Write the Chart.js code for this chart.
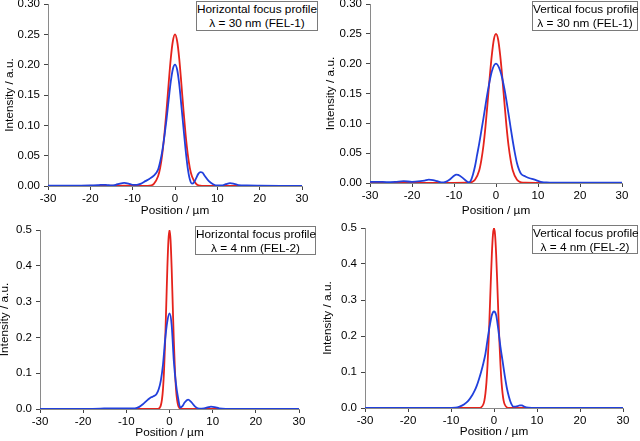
<!DOCTYPE html>
<html>
<head>
<meta charset="utf-8">
<script src="https://cdn.jsdelivr.net/npm/chart.js@4.4.0/dist/chart.umd.min.js"></script>
<style>
  body { margin: 0; background: #fff; width: 640px; height: 441px; position: relative; overflow: hidden; }
  canvas { position: absolute; }
  .tag {
    position: absolute; box-sizing: border-box; border: 1px solid #7a7a7a; background: #fff;
    font: 11.8px "Liberation Sans", Arial, sans-serif; color: #000; text-align: center;
    line-height: 14px; display: flex; flex-direction: column; justify-content: center; white-space: nowrap;
  }
</style>
</head>
<body>
<canvas id="c1" width="320" height="220" style="left:0;top:0"></canvas>
<canvas id="c2" width="320" height="220" style="left:320px;top:0"></canvas>
<canvas id="c3" width="320" height="221" style="left:0;top:220px"></canvas>
<canvas id="c4" width="320" height="221" style="left:320px;top:220px"></canvas>

<div class="tag" style="left:196px;top:1px;width:122px;height:30px"><div>Horizontal focus profile</div><div>λ = 30 nm (FEL-1)</div></div>
<div class="tag" style="left:532px;top:1px;width:106px;height:30px"><div>Vertical focus profile</div><div>λ = 30 nm (FEL-1)</div></div>
<div class="tag" style="left:195px;top:226px;width:121px;height:29px"><div>Horizontal focus profile</div><div>λ = 4 nm (FEL-2)</div></div>
<div class="tag" style="left:532px;top:225px;width:106px;height:29px"><div>Vertical focus profile</div><div>λ = 4 nm (FEL-2)</div></div>

<script>
// x ticks shared by all panels (µm)
const xTicks = [-30, -20, -10, 0, 10, 20, 30];

// --- FEL-1, horizontal ---
const h30RedX = [-30, -10, -7, -6, -5, -4, -3.5, -3, -2.5, -2, -1.5, -1, -0.5, 0, 0.5, 1, 1.5, 2, 2.5, 3, 3.5, 4, 5, 6, 7, 10, 30];
const h30RedY = [0, 0.0005, 0.0002, 0.0006, 0.0035, 0.016, 0.03, 0.053, 0.085, 0.125, 0.169, 0.21, 0.239, 0.25, 0.239, 0.21, 0.169, 0.125, 0.085, 0.053, 0.03, 0.016, 0.0035, 0.0006, 0.0002, 0, 0];
const h30BlueX = [-30, -25, -20, -18, -17, -16, -15, -14, -13, -12, -11, -10, -9, -8, -7, -6, -5, -4, -3.5, -3, -2.5, -2, -1.5, -1, -0.5, 0, 0.5, 1, 1.5, 2, 2.5, 3, 3.5, 4, 4.5, 5, 5.5, 6, 6.5, 7, 8, 9, 10, 11, 12, 13, 14, 15, 17, 20, 25, 30];
const h30BlueY = [0.0005, 0.0005, 0.0008, 0.0015, 0.002, 0.0015, 0.001, 0.002, 0.004, 0.005, 0.004, 0.002, 0.002, 0.004, 0.008, 0.012, 0.017, 0.027, 0.04, 0.058, 0.082, 0.11, 0.142, 0.172, 0.193, 0.2, 0.192, 0.168, 0.133, 0.096, 0.06, 0.03, 0.011, 0.004, 0.006, 0.013, 0.02, 0.023, 0.022, 0.017, 0.008, 0.003, 0.0008, 0.0008, 0.003, 0.0048, 0.0035, 0.0015, 0.0008, 0.0005, 0.0003, 0.0003];

// --- FEL-1, vertical ---
const v30RedX = [-30, -10, -7, -6, -5, -4, -3.5, -3, -2.5, -2, -1.5, -1, -0.5, 0, 0.5, 1, 1.5, 2, 2.5, 3, 3.5, 4, 5, 6, 7, 10, 30];
const v30RedY = [0, 0.0003, 0.0004, 0.001, 0.0053, 0.021, 0.038, 0.062, 0.095, 0.135, 0.177, 0.214, 0.241, 0.25, 0.241, 0.214, 0.177, 0.135, 0.095, 0.062, 0.038, 0.021, 0.0053, 0.001, 0.0004, 0.0003, 0];
const v30BlueX = [-30, -28, -26, -24, -22, -20, -18, -17, -16, -15, -14, -13, -12, -11, -10, -9.5, -9, -8, -7, -6.5, -6, -5.5, -5, -4.5, -4, -3.5, -3, -2, -1, 0, 1, 2, 3, 3.5, 4, 4.5, 5, 5.5, 6, 7, 8, 9, 10, 11, 12, 14, 20, 30];
const v30BlueY = [0.002, 0.002, 0.0015, 0.002, 0.003, 0.002, 0.003, 0.004, 0.0055, 0.005, 0.003, 0.001, 0.002, 0.006, 0.012, 0.014, 0.0135, 0.009, 0.003, 0.001, 0.004, 0.014, 0.028, 0.047, 0.066, 0.087, 0.108, 0.152, 0.187, 0.2, 0.188, 0.158, 0.115, 0.092, 0.07, 0.05, 0.033, 0.022, 0.015, 0.011, 0.008, 0.006, 0.0035, 0.0015, 0.0008, 0.0005, 0.0005, 0.0005];

// --- FEL-2, horizontal ---
const h4RedX = [-30, -5, -3, -2.5, -2.25, -2, -1.75, -1.5, -1.25, -1, -0.75, -0.5, -0.25, 0, 0.25, 0.5, 0.75, 1, 1.25, 1.5, 1.75, 2, 2.25, 2.5, 3, 5, 30];
const h4RedY = [0, 0, 0.0001, 0.0012, 0.0038, 0.0106, 0.026, 0.057, 0.111, 0.191, 0.291, 0.393, 0.471, 0.5, 0.471, 0.393, 0.291, 0.191, 0.111, 0.057, 0.026, 0.0106, 0.0038, 0.0012, 0.0001, 0, 0];
const h4BlueX = [-30, -20, -16, -14, -12, -10, -8, -7, -6, -5, -4.5, -4, -3.5, -3, -2.5, -2, -1.5, -1, -0.5, 0, 0.5, 1, 1.5, 2, 2.5, 3, 3.5, 4.3, 5, 6, 7, 8, 9, 9.6, 10.5, 11.5, 13, 16, 20, 30];
const h4BlueY = [0.0005, 0.0005, 0.001, 0.002, 0.002, 0.002, 0.002, 0.006, 0.015, 0.026, 0.031, 0.034, 0.037, 0.042, 0.055, 0.08, 0.125, 0.195, 0.245, 0.267, 0.235, 0.134, 0.07, 0.03, 0.004, 0.008, 0.018, 0.026, 0.02, 0.006, 0.0008, 0.002, 0.005, 0.0065, 0.005, 0.002, 0.0005, 0.0003, 0.0003, 0.0003];

// --- FEL-2, vertical ---
const v4RedX = [-30, -5, -3.5, -3, -2.5, -2.25, -2, -1.75, -1.5, -1.25, -1, -0.75, -0.5, -0.25, 0, 0.25, 0.5, 0.75, 1, 1.25, 1.5, 1.75, 2, 2.25, 2.5, 3, 3.5, 5, 30];
const v4RedY = [0, 0, 0.0002, 0.0017, 0.0097, 0.02, 0.04, 0.072, 0.121, 0.186, 0.266, 0.35, 0.427, 0.481, 0.5, 0.481, 0.427, 0.35, 0.266, 0.186, 0.121, 0.072, 0.04, 0.02, 0.0097, 0.0017, 0.0002, 0, 0];
const v4BlueX = [-30, -15, -10, -9, -8, -7, -6, -5, -4.5, -4, -3.5, -3, -2.5, -2, -1.5, -1, -0.5, 0, 0.5, 1, 1.5, 2, 2.5, 3, 3.5, 4, 4.5, 5, 5.5, 6, 6.5, 7, 8, 9, 12, 30];
const v4BlueY = [0.0002, 0.0003, 0.0006, 0.001, 0.004, 0.01, 0.02, 0.037, 0.048, 0.062, 0.08, 0.1, 0.123, 0.15, 0.19, 0.228, 0.258, 0.268, 0.258, 0.218, 0.17, 0.13, 0.09, 0.055, 0.03, 0.012, 0.004, 0.004, 0.005, 0.0075, 0.007, 0.004, 0.001, 0.0005, 0.0002, 0.0002];

const RED = '#e5231c';
const BLUE = '#2140dc';
const FONT = '"Liberation Sans", Arial, sans-serif';

function pts(xs, ys) {
  return xs.map((x, i) => ({ x: x, y: ys[i] }));
}

function makePanel(id, p) {
  new Chart(document.getElementById(id), {
    type: 'line',
    data: {
      datasets: [
        { data: pts(p.blueX, p.blueY), borderColor: BLUE },
        { data: pts(p.redX, p.redY), borderColor: RED },
      ],
    },
    options: {
      responsive: false,
      animation: false,
      devicePixelRatio: 1,
      layout: { padding: { top: p.top, right: p.right, left: 0, bottom: 0 } },
      elements: {
        point: { radius: 0 },
        line: { borderWidth: 1.8, cubicInterpolationMode: 'monotone' },
      },
      plugins: { legend: { display: false }, tooltip: { enabled: false } },
      scales: {
        x: {
          type: 'linear',
          min: -30,
          max: 30,
          afterBuildTicks: (s) => { s.ticks = xTicks.map((v) => ({ value: v })); },
          afterFit: (s) => { s.height = p.xh; s.paddingLeft = 0; s.paddingRight = 0; },
          border: { color: '#8a8a8a', width: 1 },
          grid: { drawOnChartArea: false, tickLength: 4, tickColor: '#444' },
          ticks: { color: '#000', padding: 2, font: { family: FONT, size: 11.5 } },
          title: {
            display: true,
            text: 'Position / µm',
            color: '#000',
            font: { family: FONT, size: 11.8 },
            padding: { top: 0, bottom: p.xtPad },
          },
        },
        y: {
          min: 0,
          max: p.yMax,
          afterBuildTicks: (s) => { s.ticks = p.yTicks.map((v) => ({ value: v })); },
          afterFit: (s) => { s.width = p.yw; s.paddingTop = 0; s.paddingBottom = 0; },
          border: { color: '#8a8a8a', width: 1 },
          grid: { drawOnChartArea: false, tickLength: 4, tickColor: '#444' },
          ticks: {
            color: '#000',
            padding: 4,
            font: { family: FONT, size: 11.5 },
            callback: (v) => v.toFixed(p.dec),
          },
          title: {
            display: true,
            text: 'Intensity / a.u.',
            color: '#000',
            font: { family: FONT, size: 11.8 },
            padding: { top: p.ytPad, bottom: 0 },
          },
        },
      },
    },
  });
}

const yTicks30 = [0, 0.05, 0.1, 0.15, 0.2, 0.25, 0.3];
const yTicks4 = [0, 0.1, 0.2, 0.3, 0.4, 0.5];

makePanel('c1', { redX: h30RedX, redY: h30RedY, blueX: h30BlueX, blueY: h30BlueY,
  yMax: 0.3, yTicks: yTicks30, dec: 2, yw: 48, xh: 34, top: 4, right: 18, xtPad: 2, ytPad: 3 });
makePanel('c2', { redX: v30RedX, redY: v30RedY, blueX: v30BlueX, blueY: v30BlueY,
  yMax: 0.3, yTicks: yTicks30, dec: 2, yw: 50, xh: 37, top: 4, right: 18, xtPad: 2, ytPad: 4 });
makePanel('c3', { redX: h4RedX, redY: h4RedY, blueX: h4BlueX, blueY: h4BlueY,
  yMax: 0.5, yTicks: yTicks4, dec: 1, yw: 40, xh: 32, top: 10, right: 21, xtPad: 1, ytPad: -2 });
makePanel('c4', { redX: v4RedX, redY: v4RedY, blueX: v4BlueX, blueY: v4BlueY,
  yMax: 0.5, yTicks: yTicks4, dec: 1, yw: 45, xh: 33, top: 8, right: 17, xtPad: 2, ytPad: 1 });
</script>
</body>
</html>
